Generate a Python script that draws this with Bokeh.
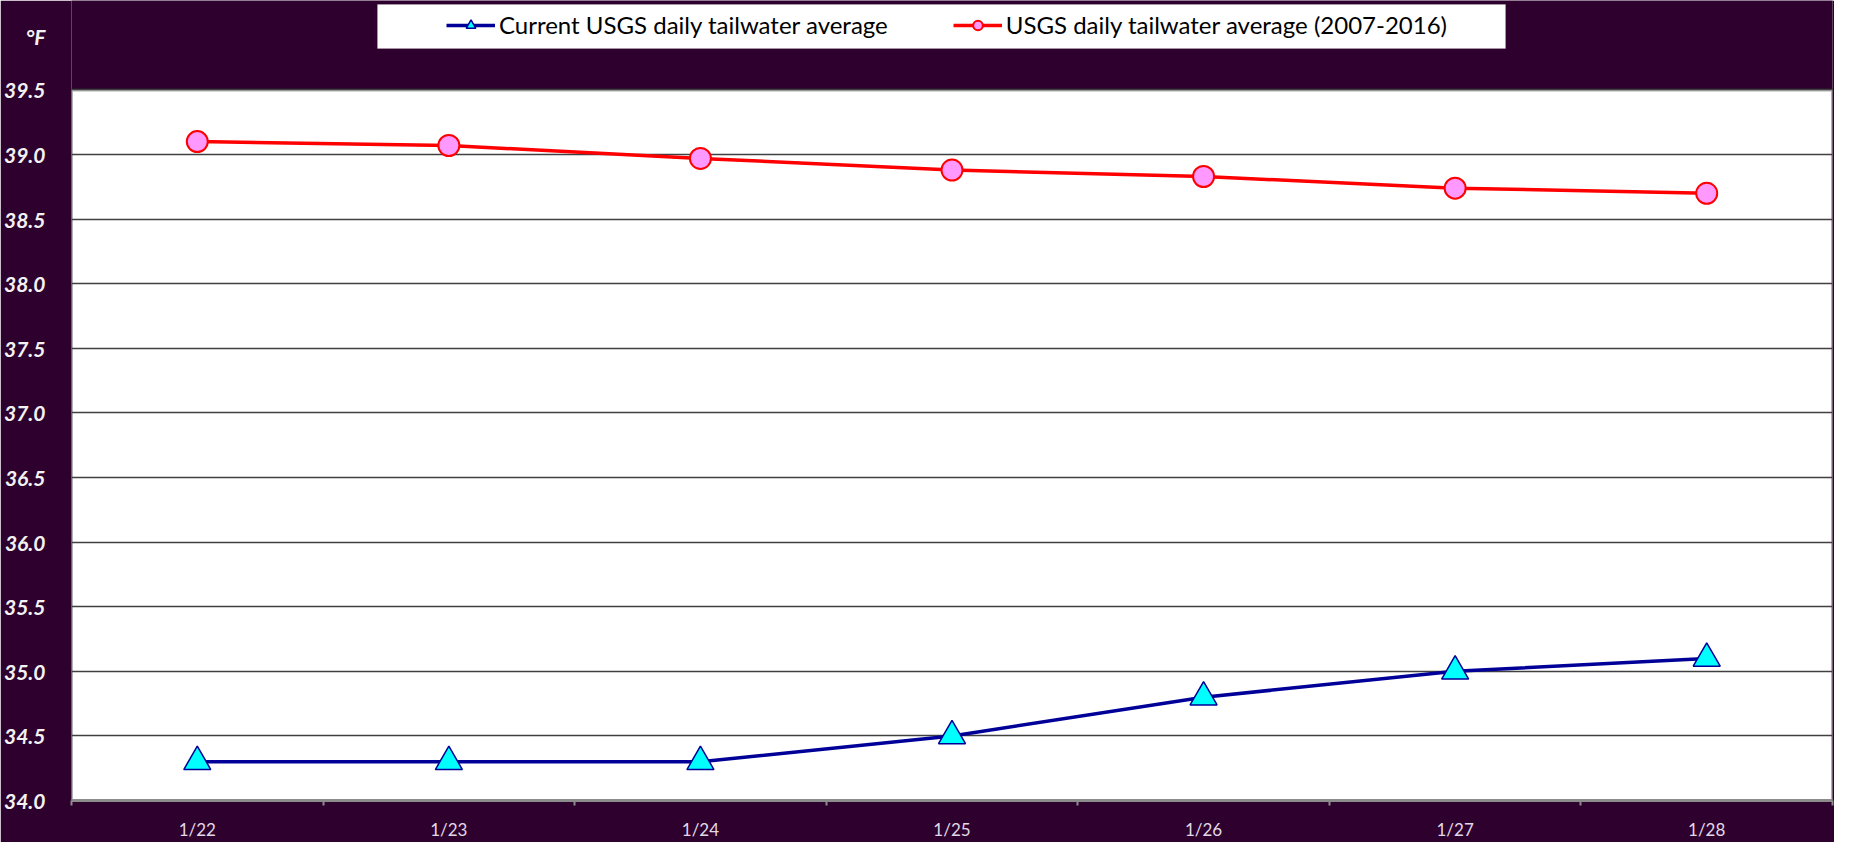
from bokeh.plotting import figure
from bokeh.models import (FixedTicker, Legend, LegendItem, BoxAnnotation,
                          Range1d, ColumnDataSource)
from bokeh.embed import file_html
from bokeh.resources import INLINE

dates = ["1/22", "1/23", "1/24", "1/25", "1/26", "1/27", "1/28"]
current = [34.3, 34.3, 34.3, 34.5, 34.8, 35.0, 35.1]
average = [39.1, 39.07, 38.97, 38.88, 38.83, 38.74, 38.70]
y_ticks = [34.0, 34.5, 35.0, 35.5, 36.0, 36.5, 37.0, 37.5, 38.0, 38.5, 39.0, 39.5]
series_names = ["Current USGS daily tailwater average",
                "USGS daily tailwater average (2007-2016)"]
unit_text = "°F"

# ---- layout constants (pixels) ----
BG = "#2e002e"
FONT = "Lato"
W, H = 1834, 842
BORDER_L, BORDER_R, BORDER_B = 63, 2, 37
HEADER_PX = 90          # space between canvas top and plot-area top
UNIT_PX = 54            # unit label distance above plot-area top
FRAME_PX = H - BORDER_B
PLOT_PX = FRAME_PX - HEADER_PX
y_lo, y_hi = y_ticks[0], y_ticks[-1]
px_per_unit = PLOT_PX / (y_hi - y_lo)
y_top = y_hi + HEADER_PX / px_per_unit
unit_y = y_hi + UNIT_PX / px_per_unit

xpos = [i + 0.5 for i in range(len(dates))]
src = ColumnDataSource(dict(x=xpos, cur=current, avg=average))

p = figure(width=W, height=H, output_backend="svg", toolbar_location=None,
           x_range=Range1d(0, len(dates)), y_range=Range1d(y_lo, y_top),
           min_border_left=BORDER_L, min_border_right=BORDER_R,
           min_border_top=0, min_border_bottom=BORDER_B)
p.background_fill_color = BG
p.border_fill_color = BG
p.outline_line_color = None

# white plot area with black border
area = BoxAnnotation(left=0, right=len(dates), bottom=y_lo, top=y_hi,
                     fill_color="white", fill_alpha=1.0,
                     line_color="black", line_width=3, level="image")
p.add_layout(area)

# y axis (with unit label as an extra label above the plot area)
p.yaxis.ticker = FixedTicker(ticks=y_ticks + [unit_y])
overrides = {t: f"{t:.1f}" for t in y_ticks}
overrides[unit_y] = unit_text
p.yaxis.major_label_overrides = overrides
p.yaxis.major_label_text_font = FONT
p.yaxis.major_label_text_font_style = "bold italic"
p.yaxis.major_label_text_font_size = "21px"
p.yaxis.major_label_text_color = "#f2f2f2"
p.yaxis.major_label_standoff = 20
p.yaxis.major_tick_line_color = None
p.yaxis.minor_tick_line_color = None
p.yaxis.axis_line_color = None

# x axis: labels at category centres, tick marks at boundaries
p.xaxis.ticker = FixedTicker(ticks=xpos, minor_ticks=list(range(len(dates) + 1)))
p.xaxis.major_label_overrides = {x: d for x, d in zip(xpos, dates)}
p.xaxis.major_label_text_font = FONT
p.xaxis.major_label_text_font_size = "17px"
p.xaxis.major_label_text_color = "#e0dae6"
p.xaxis.major_label_standoff = 12
p.xaxis.major_tick_line_color = None
p.xaxis.minor_tick_line_color = "#8c8c8c"
p.xaxis.minor_tick_line_width = 2
p.xaxis.minor_tick_out = 5
p.xaxis.minor_tick_in = 0
p.xaxis.axis_line_color = "#8c8c8c"
p.xaxis.axis_line_width = 3

p.xgrid.grid_line_color = None
p.ygrid.ticker = FixedTicker(ticks=y_ticks)
p.ygrid.grid_line_color = "#404040"
p.ygrid.grid_line_width = 1.5

r1l = p.line("x", "cur", source=src, line_color="#000099", line_width=3.5)
r1m = p.scatter("x", "cur", source=src, marker="triangle", size=27,
                fill_color="#00ffff", line_color="#000099", line_width=1.5)
r2l = p.line("x", "avg", source=src, line_color="#ff0000", line_width=3.5)
r2m = p.scatter("x", "avg", source=src, marker="circle", size=21,
                fill_color="#ff99ff", line_color="#ff0000", line_width=2)

# legend: white box + items
box = BoxAnnotation(left=377, right=1505, top=4, bottom=48,
                    left_units="canvas", right_units="canvas",
                    top_units="canvas", bottom_units="canvas",
                    fill_color="white", fill_alpha=1.0,
                    line_color="#c8c8c8", line_width=1)
p.add_layout(box)

legend = Legend(items=[LegendItem(label=series_names[0], renderers=[r1l, r1m]),
                       LegendItem(label=series_names[1], renderers=[r2l, r2m])],
                orientation="horizontal", location=(375, FRAME_PX - 44),
                padding=0, spacing=65, glyph_width=49, glyph_height=24,
                label_standoff=4, label_text_font=FONT, label_text_font_size="24px",
                label_text_color="black", background_fill_alpha=0,
                border_line_color=None, margin=0)
p.add_layout(legend, "center")

open("out.html", "w").write(file_html(p, INLINE))
